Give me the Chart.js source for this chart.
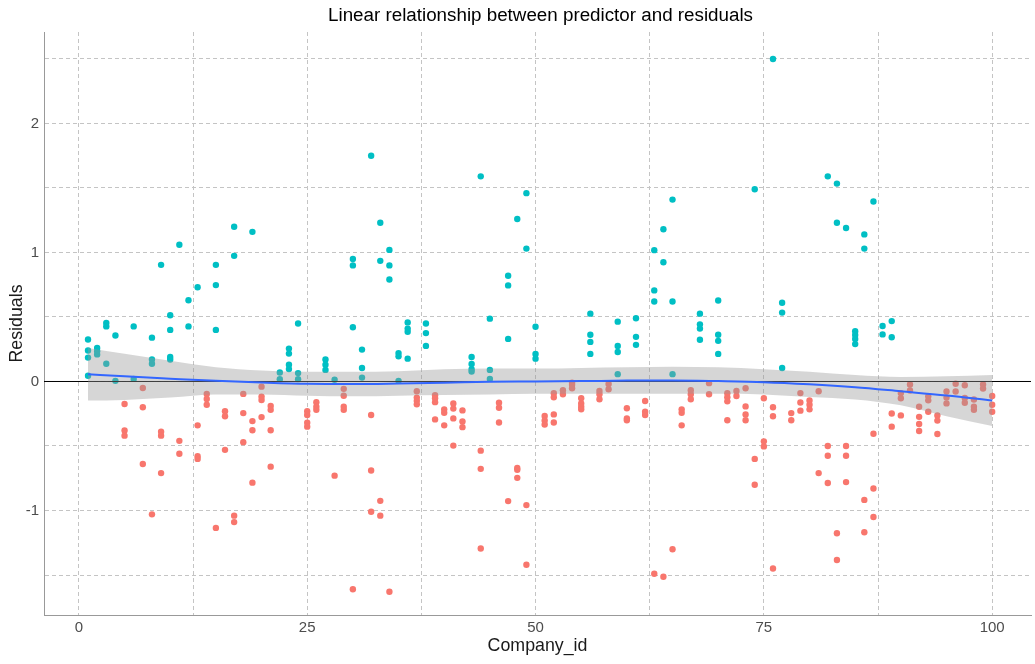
<!DOCTYPE html>
<html>
<head>
<meta charset="utf-8">
<title>Linear relationship between predictor and residuals</title>
<script src="https://cdn.jsdelivr.net/npm/chart.js@4.4.1/dist/chart.umd.min.js"></script>
<style>
  html, body { margin: 0; padding: 0; background: #fff; }
  canvas { display: block; }
</style>
</head>
<body>
<canvas id="residualChart" width="1035" height="664"></canvas>
<script>
// residuals per company, residualSets[i] belongs to companyIds[i]
const companyIds = [
  1, 2, 3, 4, 5, 6, 7, 8, 9, 10, 11, 12, 13, 14, 15, 16, 17, 18, 19, 20,
  21, 22, 23, 24, 25, 26, 27, 28, 29, 30, 31, 32, 33, 34, 35, 36, 37, 38, 39, 40,
  41, 42, 43, 44, 45, 46, 47, 48, 49, 50, 51, 52, 53, 54, 55, 56, 57, 58, 59, 60,
  61, 62, 63, 64, 65, 66, 67, 68, 69, 70, 71, 72, 73, 74, 75, 76, 77, 78, 79, 80,
  81, 82, 83, 84, 85, 86, 87, 88, 89, 90, 91, 92, 93, 94, 95, 96, 97, 98, 99, 100
];
const residualSets = [
  [0.325, 0.24, 0.185, 0.044], [0.26, 0.234, 0.21], [0.453, 0.427, 0.138], [0.357, 0.005],
  [-0.175, -0.38, -0.42], [0.427, 0.02], [-0.05, -0.2, -0.64], [0.34, 0.17, 0.138, -1.03],
  [0.904, -0.39, -0.42, -0.71], [0.513, 0.40, 0.19, 0.17], [1.06, -0.46, -0.56], [0.63, 0.427],
  [0.73, -0.34, -0.58, -0.6], [-0.096, -0.135, -0.18], [0.904, 0.747, 0.40, -1.135], [-0.23, -0.27, -0.53],
  [1.20, 0.974, -1.04, -1.09], [-0.096, -0.245, -0.47], [1.16, -0.307, -0.378, -0.784], [-0.04, -0.117, -0.143, -0.276],
  [-0.19, -0.22, -0.378, -0.66], [0.07, 0.018], [0.255, 0.216, 0.13, 0.096], [0.45, 0.065, 0.018],
  [-0.23, -0.26, -0.32, -0.35], [-0.16, -0.195, -0.22], [0.17, 0.13, 0.09], [0.013, -0.73],
  [-0.057, -0.11, -0.195, -0.22], [0.95, 0.90, 0.42, -1.61], [0.247, 0.104, 0.03], [1.75, -0.26, -0.69, -1.01],
  [1.23, 0.935, -0.925, -1.04], [1.02, 0.90, 0.79, -1.63], [0.22, 0.195, 0.005], [0.458, 0.41, 0.385, 0.177],
  [-0.075, -0.125, -0.15, -0.177], [0.45, 0.375, 0.276], [-0.107, -0.13, -0.16, -0.294], [-0.216, -0.242, -0.34],
  [-0.17, -0.21, -0.286, -0.497], [-0.224, -0.31, -0.354], [0.19, 0.135, 0.096, 0.078], [1.59, -0.536, -0.677, -1.294],
  [0.487, 0.09, 0.02], [-0.164, -0.203, -0.318], [0.82, 0.745, 0.33, -0.927], [1.26, -0.67, -0.685, -0.747],
  [1.46, 1.03, -0.958, -1.42], [0.424, 0.213, 0.177], [-0.268, -0.302, -0.333], [-0.091, -0.122, -0.255, -0.318],
  [-0.068, -0.099], [-0.01, -0.026, -0.052], [-0.13, -0.17, -0.195, -0.216], [0.526, 0.362, 0.307, 0.214],
  [-0.073, -0.099, -0.138], [-0.02, -0.06], [0.464, 0.276, 0.229, 0.057], [-0.208, -0.286, -0.30],
  [0.49, 0.346, 0.284], [-0.151, -0.234, -0.26], [1.018, 0.706, 0.62, -1.49], [1.18, 0.924, -1.513],
  [1.41, 0.62, 0.057, -1.30], [-0.216, -0.242, -0.34], [-0.068, -0.099, -0.138], [0.526, 0.443, 0.41, 0.323],
  [-0.013, -0.099], [0.628, 0.362, 0.315, 0.214], [-0.091, -0.122, -0.154, -0.30], [-0.073, -0.112],
  [-0.052, -0.193, -0.255, -0.30], [1.49, -0.60, -0.80], [-0.13, -0.464, -0.503], [2.50, -0.20, -0.27, -1.45],
  [0.61, 0.534, 0.104], [-0.245, -0.30], [-0.09, -0.163, -0.226], [-0.147, -0.18, -0.216],
  [-0.076, -0.71], [1.59, -0.50, -0.576, -0.787], [1.534, 1.23, -1.176, -1.384], [1.19, -0.50, -0.576, -0.78],
  [0.39, 0.36, 0.33, 0.29], [1.14, 1.03, -0.918, -1.168], [1.395, -0.405, -0.83, -1.05], [0.43, 0.365],
  [0.468, 0.343, -0.248, -0.35], [-0.09, -0.13, -0.263], [-0.023, -0.07], [-0.196, -0.274, -0.33, -0.384],
  [-0.115, -0.146, -0.235], [-0.264, -0.303, -0.407], [-0.078, -0.125, -0.17], [-0.018, -0.078],
  [-0.029, -0.128, -0.165], [-0.14, -0.196, -0.22], [-0.023, -0.055], [-0.112, -0.18, -0.235]
];

// loess fit and its confidence band
const smoothX     = [1, 5, 10, 15, 20, 25, 30, 35, 40, 45, 50, 55, 60, 65, 70, 75, 80, 85, 90, 95, 100];
const smoothFit   = [0.057, 0.04, 0.022, 0.005, -0.008, -0.018, -0.02, -0.016, -0.01, -0.002, 0.0, 0.003, 0.007, 0.008, 0.003, -0.005, -0.022, -0.045, -0.076, -0.108, -0.147];
const smoothUpper = [0.26, 0.215, 0.16, 0.11, 0.085, 0.075, 0.075, 0.08, 0.095, 0.10, 0.10, 0.105, 0.11, 0.115, 0.11, 0.095, 0.075, 0.05, 0.035, 0.04, 0.05];
const smoothLower = [-0.148, -0.143, -0.125, -0.10, -0.10, -0.11, -0.115, -0.11, -0.105, -0.10, -0.095, -0.095, -0.095, -0.095, -0.095, -0.10, -0.12, -0.14, -0.185, -0.27, -0.345];

const xTicks = [0, 12.5, 25, 37.5, 50, 62.5, 75, 87.5, 100];
const yTicks = [-1.5, -1, -0.5, 0, 0.5, 1, 1.5, 2, 2.5];

const X_MIN = -3.82, X_MAX = 104.25;
const Y_MIN = -1.810, Y_MAX = 2.709;

const TITLE = 'Linear relationship between predictor and residuals';
const FONT = '"Liberation Sans", Arial, sans-serif';
Chart.defaults.font.family = FONT;

// split points by sign
const above = [], below = [];
companyIds.forEach((id, i) => {
  residualSets[i].forEach(r => {
    (r > 0 ? above : below).push({ x: id, y: r });
  });
});

const curve = arr => smoothX.map((x, i) => ({ x: x, y: arr[i] }));

// title centred over the panel, like ggplot does it
const panelTitle = {
  id: 'panelTitle',
  afterDraw(chart) {
    const { ctx, chartArea } = chart;
    ctx.save();
    ctx.fillStyle = '#000';
    ctx.font = '18.8px ' + FONT;
    ctx.textAlign = 'center';
    ctx.textBaseline = 'middle';
    ctx.fillText(TITLE, (chartArea.left + chartArea.right) / 2 + 3, 16);
    ctx.restore();
  }
};

const ctx = document.getElementById("residualChart");

new Chart(ctx, {
  type: 'scatter',
  data: {
    datasets: [
      {
        type: 'line',
        label: 'fit',
        data: curve(smoothFit),
        borderColor: '#3366FF',
        borderWidth: 2,
        pointRadius: 0,
        cubicInterpolationMode: 'monotone',
        fill: false,
        order: 1
      },
      {
        type: 'line',
        label: 'upper',
        data: curve(smoothUpper),
        borderWidth: 0,
        pointRadius: 0,
        cubicInterpolationMode: 'monotone',
        backgroundColor: 'rgba(153,153,153,0.4)',
        fill: '+1',
        order: 2
      },
      {
        type: 'line',
        label: 'lower',
        data: curve(smoothLower),
        borderWidth: 0,
        pointRadius: 0,
        cubicInterpolationMode: 'monotone',
        fill: false,
        order: 2
      },
      {
        type: 'line',
        label: 'zero',
        data: [{ x: X_MIN, y: 0 }, { x: X_MAX, y: 0 }],
        borderColor: '#000',
        borderWidth: 1,
        pointRadius: 0,
        fill: false,
        order: 3
      },
      {
        label: 'positive',
        data: above,
        backgroundColor: '#00BFC4',
        borderWidth: 0,
        pointRadius: 3.2,
        order: 4
      },
      {
        label: 'negative',
        data: below,
        backgroundColor: '#F8766D',
        borderWidth: 0,
        pointRadius: 3.2,
        order: 4
      }
    ]
  },
  options: {
    responsive: false,
    animation: false,
    layout: { padding: { top: 32, left: 0, right: 0, bottom: 0 } },
    plugins: {
      legend: { display: false },
      tooltip: { enabled: false },
      title: { display: false }
    },
    scales: {
      x: {
        type: 'linear',
        min: X_MIN,
        max: X_MAX,
        afterBuildTicks: s => { s.ticks = xTicks.map(v => ({ value: v })); },
        afterFit: s => { s.height = 49; },
        grid: { color: '#c4c4c4', lineWidth: 1, drawTicks: false },
        border: { display: true, color: '#999999', width: 1, dash: [4, 3] },
        ticks: {
          autoSkip: false,
          maxRotation: 0,
          padding: 4,
          color: '#4d4d4d',
          font: { size: 15 },
          callback: v => (v % 25 === 0 ? String(v) : '')
        },
        title: {
          display: true,
          text: 'Company_id',
          color: '#1a1a1a',
          font: { size: 17.8 },
          padding: { top: 0, bottom: 7 }
        }
      },
      y: {
        type: 'linear',
        min: Y_MIN,
        max: Y_MAX,
        afterBuildTicks: s => { s.ticks = yTicks.map(v => ({ value: v })); },
        afterFit: s => { s.width = 44; },
        grid: { color: '#c4c4c4', lineWidth: 1, drawTicks: false },
        border: { display: true, color: '#999999', width: 1, dash: [4, 3] },
        ticks: {
          autoSkip: false,
          padding: 5,
          color: '#4d4d4d',
          font: { size: 15 },
          callback: v => (Number.isInteger(v) ? String(v) : '')
        },
        title: {
          display: true,
          text: 'Residuals',
          color: '#1a1a1a',
          font: { size: 17.8 },
          padding: { top: 6, bottom: 0 }
        }
      }
    }
  },
  plugins: [panelTitle]
});
</script>
</body>
</html>
